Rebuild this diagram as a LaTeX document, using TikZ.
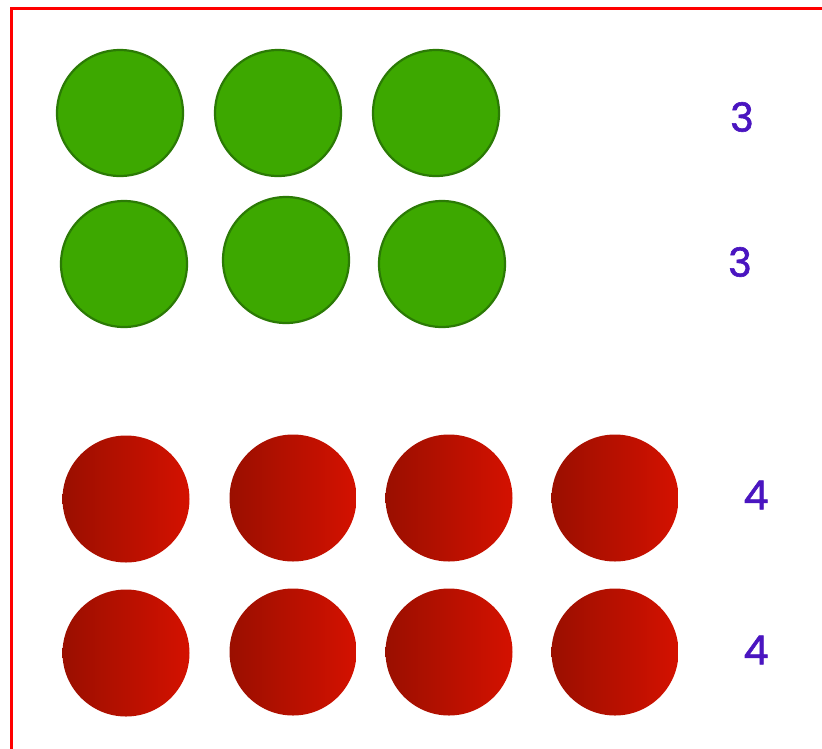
\documentclass[tikz,border=0pt]{standalone}
\usepackage{fontspec}
\newfontfamily\numfont[FakeBold=1.5]{Poppins}
\definecolor{gfill}{HTML}{3DA800}
\definecolor{gline}{HTML}{2B7A05}
\definecolor{rdark}{HTML}{9A0F00}
\definecolor{rlight}{HTML}{D41100}
\definecolor{numcol}{HTML}{4A15C0}
\tikzset{
  gdot/.style={circle, inner sep=0pt, minimum size=126pt, fill=gfill, draw=gline, line width=2.2pt},
  rdot/.style={circle, inner sep=0pt, minimum size=127pt, left color=rdark, right color=rlight},
  numlab/.style={text=numcol, font=\numfont\fontsize{40}{40}\selectfont, inner sep=0pt}
}
\begin{document}
\begin{tikzpicture}[x=1pt,y=-1pt]
\useasboundingbox (0,0) rectangle (822,748);
\draw[red, line width=2.2pt] (11.5,760) -- (11.5,8.5) -- (830,8.5);
\node[gdot] (g11) at (120,113) {};
\node[gdot] (g12) at (278,113) {};
\node[gdot] (g13) at (436,113) {};
\node[gdot] (g21) at (124,264) {};
\node[gdot] (g22) at (286,260) {};
\node[gdot] (g23) at (442,264) {};
\node[rdot] (r11) at (126,499) {};
\node[rdot] (r12) at (293,498) {};
\node[rdot] (r13) at (449,498) {};
\node[rdot] (r14) at (615,498) {};
\node[rdot] (r21) at (126,653) {};
\node[rdot] (r22) at (293,652) {};
\node[rdot] (r23) at (449,652) {};
\node[rdot] (r24) at (615,652) {};
\node[numlab] (n1) at (742,117) {3};
\node[numlab] (n2) at (740,262) {3};
\node[numlab] (n3) at (756,495) {4};
\node[numlab] (n4) at (756,650) {4};
\end{tikzpicture}
\end{document}
